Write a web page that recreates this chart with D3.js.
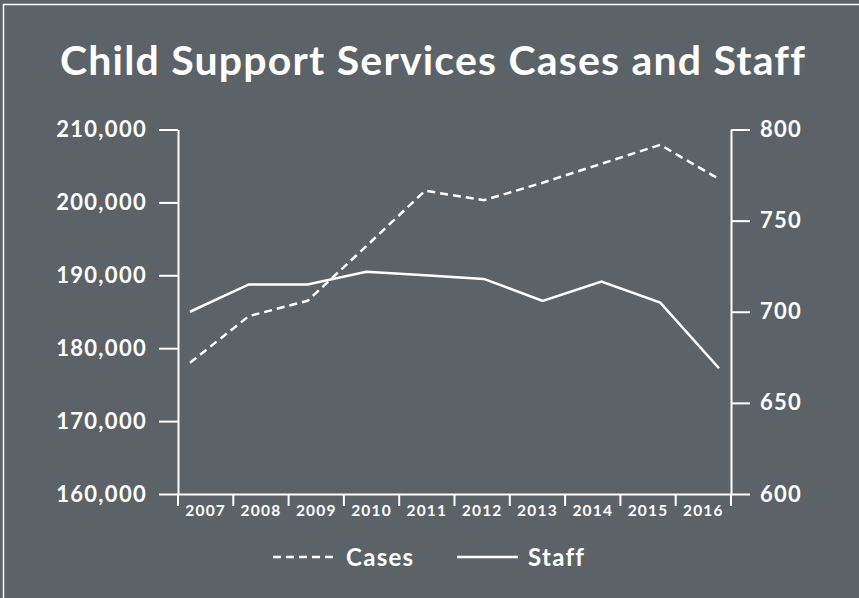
<!DOCTYPE html>
<html>
<head>
<meta charset="utf-8">
<script src="https://cdn.jsdelivr.net/npm/d3@7"></script>
<style>
  body { margin: 0; background: #5c6368; }
  svg text { font-family: Lato, "Open Sans", sans-serif; font-weight: 700; fill: #fff; }
</style>
</head>
<body>
<svg id="svg" width="859" height="598"></svg>
<script>
// values
var years = ['2007', '2008', '2009', '2010', '2011', '2012', '2013', '2014', '2015', '2016'];
var cases = [178000, 184400, 186500, 194000, 201600, 200300, 202700, 205300, 207900, 203200];
var staff = [700, 715, 715, 722, 720, 718, 706, 716.5, 705, 669];
var leftTicks = [160000, 170000, 180000, 190000, 200000, 210000];
var rightTicks = [600, 650, 700, 750, 800];

function drawChart() {
    var svg = d3.select('#svg');
    var left = 178, right = 731, top = 129.5, bottom = 494;

    svg.append('rect')
        .attr('width', 859).attr('height', 598)
        .attr('fill', '#5c6368');
    // white frame, open at right/bottom like the reference
    svg.append('rect')
        .attr('x', 3.5).attr('y', 4.5)
        .attr('width', 900).attr('height', 700)
        .attr('fill', 'none')
        .attr('stroke', '#fff')
        .attr('stroke-width', 1.5);

    svg.append('text')
        .attr('x', 433).attr('y', 75)
        .attr('text-anchor', 'middle')
        .attr('font-size', 41)
        .attr('letter-spacing', 1.2)
        .text('Child Support Services Cases and Staff');

    var scBand = d3.scaleBand().domain(years).range([left, right]);
    var scX = d3.scalePoint().domain(years).range([left + 12, right - 12]);
    var scL = d3.scaleLinear().domain([160000, 210000]).range([bottom, top]);
    var scR = d3.scaleLinear().domain([600, 800]).range([bottom, top]);

    var gL = svg.append('g')
        .attr('transform', 'translate(' + left + ',0)')
        .call(d3.axisLeft(scL).tickValues(leftTicks).tickSize(19).tickSizeOuter(0)
            .tickPadding(12).tickFormat(d3.format(',')));
    var gR = svg.append('g')
        .attr('transform', 'translate(' + right + ',0)')
        .call(d3.axisRight(scR).tickValues(rightTicks).tickSize(19).tickSizeOuter(0)
            .tickPadding(10));
    var gX = svg.append('g')
        .attr('transform', 'translate(0,' + bottom + ')')
        .call(d3.axisBottom(scBand).tickSize(0).tickSizeOuter(0).tickPadding(11));

    [gL, gR].forEach(function (g) {
        g.selectAll('text').attr('font-size', 22).attr('letter-spacing', 1.3)
            .attr('font-family', null).attr('fill', '#fff');
    });
    gX.selectAll('text').attr('font-size', 15.5).attr('letter-spacing', 1.2)
        .attr('font-family', null).attr('fill', '#fff');
    svg.selectAll('.domain, .tick line').attr('stroke', '#fff').attr('stroke-width', 2);
    gX.selectAll('.tick line').remove();

    // x ticks sit on band boundaries
    gX.selectAll('line.sep')
        .data(d3.range(years.length + 1))
        .enter().append('line')
        .attr('class', 'sep')
        .attr('x1', i => left + i * scBand.step())
        .attr('x2', i => left + i * scBand.step())
        .attr('y1', 0).attr('y2', 12)
        .attr('stroke', '#fff').attr('stroke-width', 2);

    var lineCases = d3.line().x((d, i) => scX(years[i])).y(d => scL(d));
    var lineStaff = d3.line().x((d, i) => scX(years[i])).y(d => scR(d));

    svg.append('path')
        .attr('d', lineCases(cases))
        .attr('fill', 'none').attr('stroke', '#fff')
        .attr('stroke-width', 2.5).attr('stroke-dasharray', '8,5');
    svg.append('path')
        .attr('d', lineStaff(staff))
        .attr('fill', 'none').attr('stroke', '#fff')
        .attr('stroke-width', 2.5);

    // legend
    var leg = svg.append('g').attr('transform', 'translate(0,557)');
    leg.append('line')
        .attr('x1', 273).attr('x2', 337).attr('y1', 0).attr('y2', 0)
        .attr('stroke', '#fff').attr('stroke-width', 2.5).attr('stroke-dasharray', '8,5');
    leg.append('text').attr('x', 346).attr('y', 8.5).attr('font-size', 24)
        .attr('letter-spacing', 1.3).text('Cases');
    leg.append('line')
        .attr('x1', 457).attr('x2', 518).attr('y1', 0).attr('y2', 0)
        .attr('stroke', '#fff').attr('stroke-width', 2.5);
    leg.append('text').attr('x', 528).attr('y', 8.5).attr('font-size', 24)
        .attr('letter-spacing', 1.3).text('Staff');
}

drawChart();
</script>
</body>
</html>
